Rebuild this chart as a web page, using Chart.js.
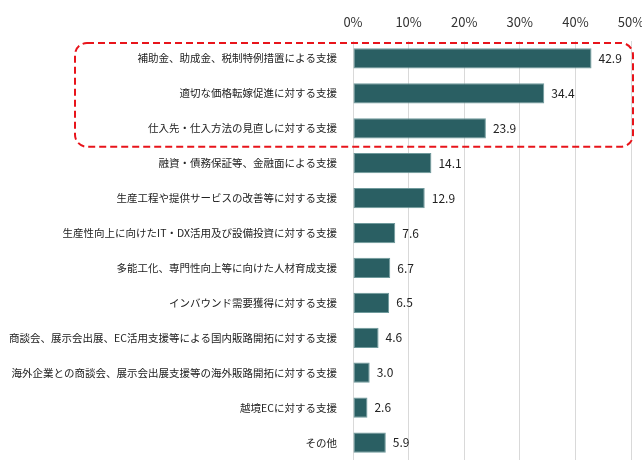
<!DOCTYPE html>
<html>
<head>
<meta charset="utf-8">
<script src="https://cdn.jsdelivr.net/npm/chart.js@4/dist/chart.umd.min.js"></script>
<style>
  body { margin: 0; background: #fff; }
  #wrap { width: 642px; height: 460px; }
</style>
</head>
<body>
<div id="wrap"><canvas id="grafico" width="642" height="460"></canvas></div>
<script>
const categorias = [
    "補助金、助成金、税制特例措置による支援",
    "適切な価格転嫁促進に対する支援",
    "仕入先・仕入方法の見直しに対する支援",
    "融資・債務保証等、金融面による支援",
    "生産工程や提供サービスの改善等に対する支援",
    "生産性向上に向けたIT・DX活用及び設備投資に対する支援",
    "多能工化、専門性向上等に向けた人材育成支援",
    "インバウンド需要獲得に対する支援",
    "商談会、展示会出展、EC活用支援等による国内販路開拓に対する支援",
    "海外企業との商談会、展示会出展支援等の海外販路開拓に対する支援",
    "越境ECに対する支援",
    "その他"
];
const valores = [42.9, 34.4, 23.9, 14.1, 12.9, 7.6, 6.7, 6.5, 4.6, 3.0, 2.6, 5.9];
const ticksX = [0, 10, 20, 30, 40, 50];

const fonte = "'Noto Sans CJK JP', 'Noto Sans', sans-serif";

// rotulos de valor a direita das barras
const rotulosValor = {
    id: "rotulosValor",
    afterDatasetsDraw(chart) {
        const ctx = chart.ctx;
        const meta = chart.getDatasetMeta(0);
        ctx.save();
        ctx.font = "12px " + fonte;
        ctx.fillStyle = "#222";
        ctx.textBaseline = "middle";
        ctx.textAlign = "left";
        meta.data.forEach((bar, i) => {
            ctx.fillText(valores[i].toFixed(1), bar.x + 7, bar.y);
        });
        ctx.restore();
    }
};

// caixa tracejada vermelha em volta dos 3 primeiros itens
const destaque = {
    id: "destaque",
    afterDraw(chart) {
        const ctx = chart.ctx;
        const y = chart.scales.y;
        const area = chart.chartArea;
        const passo = y.getPixelForValue(1) - y.getPixelForValue(0);
        const topo = y.getPixelForValue(0) - passo / 2 + 2;
        const base = y.getPixelForValue(2) + passo / 2 + 1;
        const esq = area.left - 278;
        const dir = area.right + 2;
        ctx.save();
        ctx.strokeStyle = "#e8141b";
        ctx.lineWidth = 2;
        ctx.setLineDash([7, 4]);
        ctx.beginPath();
        ctx.roundRect(esq, topo, dir - esq, base - topo, 12);
        ctx.stroke();
        ctx.restore();
    }
};

new Chart(document.getElementById("grafico").getContext("2d"), {
    type: "bar",
    data: {
        labels: categorias,
        datasets: [{
            data: valores,
            backgroundColor: "#2a5f63",
            borderColor: "#6f9a9c",
            borderWidth: 1,
            borderSkipped: false,
            barPercentage: 0.58,
            categoryPercentage: 1
        }]
    },
    options: {
        indexAxis: "y",
        responsive: false,
        animation: false,
        layout: { padding: { left: 0, right: 11, top: 0, bottom: 0 } },
        plugins: {
            legend: { display: false },
            tooltip: { enabled: false }
        },
        scales: {
            x: {
                position: "top",
                min: 0,
                max: 50,
                afterBuildTicks: scale => {
                    scale.ticks = ticksX.map(v => ({ value: v }));
                },
                afterFit: scale => {
                    scale.height = 41;
                    scale.paddingLeft = 0;
                    scale.paddingRight = 0;
                },
                grid: { color: "#d9d9d9", drawTicks: false },
                border: { display: false },
                ticks: {
                    padding: 11,
                    color: "#333",
                    font: { family: fonte, size: 13 },
                    callback: v => v + "%"
                }
            },
            y: {
                afterFit: scale => {
                    scale.width = 353;
                    scale.paddingTop = 0;
                    scale.paddingBottom = 0;
                },
                grid: { display: false },
                border: { display: false },
                ticks: {
                    color: "#222",
                    padding: 8,
                    autoSkip: false,
                    font: { family: fonte, size: 10.5 }
                }
            }
        }
    },
    plugins: [rotulosValor, destaque]
});
</script>
</body>
</html>
